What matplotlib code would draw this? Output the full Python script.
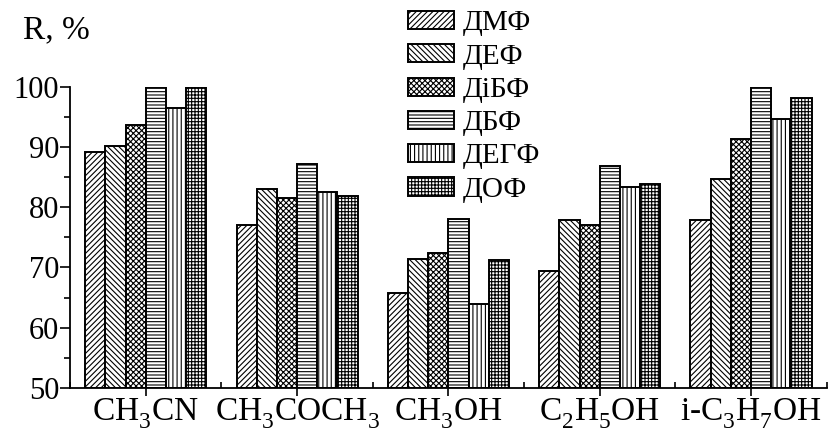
import numpy as np
import matplotlib
matplotlib.use("Agg")
import matplotlib.pyplot as plt
import matplotlib._mathtext as mathtext_internals
from matplotlib.ticker import MultipleLocator, FixedLocator

plt.rcParams['font.family'] = ['Liberation Serif', 'DejaVu Serif']
plt.rcParams['mathtext.fontset'] = 'custom'
plt.rcParams['mathtext.rm'] = 'Liberation Serif'
plt.rcParams['mathtext.it'] = 'Liberation Serif:italic'
plt.rcParams['hatch.linewidth'] = 0.8
# drop the chemical-formula subscripts a bit further below the baseline
mathtext_internals.FontConstantsBase.sub1 = 0.5

solvents = ['CH$_3$CN', 'CH$_3$COCH$_3$', 'CH$_3$OH', 'C$_2$H$_5$OH', 'i-C$_3$H$_7$OH']
extractants = ['ДМФ', 'ДЕФ', 'ДіБФ', 'ДБФ', 'ДЕГФ', 'ДОФ']

# recovery R, % for each extractant across the five solvents
dmf  = [89.2, 77.0, 65.8, 69.4, 77.9]
def_ = [90.1, 83.1, 71.4, 77.9, 84.7]
dibf = [93.7, 81.6, 72.4, 77.0, 91.4]
dbf  = [100.0, 87.2, 78.1, 86.8, 100.0]
degf = [96.5, 82.6, 64.0, 83.3, 94.6]
dof  = [100.0, 81.9, 71.2, 83.9, 98.1]

series = [dmf, def_, dibf, dbf, degf, dof]
hatches = ['//////', '\\\\\\\\\\\\', 'xxxxxx', '-----', '||||', '+++++']

fig = plt.figure(figsize=(8.35, 4.3), dpi=100)
ax = fig.add_axes([0.084, 0.098, 0.906, 0.700])

x = np.arange(len(solvents))
w = 0.8 / len(series)
handles = []
for i, vals in enumerate(series):
    pos = x - 0.4 + w * (i + 0.5)
    b = ax.bar(pos, np.array(vals) - 50, bottom=50, width=w, color='white',
               edgecolor='black', linewidth=1.4, hatch=hatches[i],
               label=extractants[i])
    handles.append(b)

ax.set_xlim(-0.5, 4.5)
ax.set_ylim(50, 100)
ax.spines['top'].set_visible(False)
ax.spines['right'].set_visible(False)
ax.spines['left'].set_linewidth(1.3)
ax.spines['bottom'].set_linewidth(1.3)

ax.yaxis.set_major_locator(MultipleLocator(10))
ax.yaxis.set_minor_locator(MultipleLocator(5))
ax.tick_params(axis='y', which='major', direction='out', length=7, width=1.2,
               labelsize=22, pad=1)
ax.tick_params(axis='y', which='minor', direction='out', length=4, width=1.2)

ax.set_xticks(x)
ax.set_xticklabels(solvents)
ax.xaxis.set_minor_locator(FixedLocator(np.arange(-0.5, 5.0, 1.0)))
ax.tick_params(axis='x', which='major', direction='out', length=6, width=1.2,
               labelsize=24, pad=0)
ax.tick_params(axis='x', which='minor', direction='in', length=4, width=1.2)

fig.text(0.027, 0.93, 'R, %', fontsize=24, ha='left', va='center')

fig.legend(handles=handles, loc='upper left', bbox_to_anchor=(0.489, 0.976),
           frameon=False, fontsize=21, handlelength=1.55, handleheight=0.58,
           handletextpad=0.3, labelspacing=0.25, borderaxespad=0.0,
           borderpad=0.0)

fig.savefig('out.png', dpi=100)
